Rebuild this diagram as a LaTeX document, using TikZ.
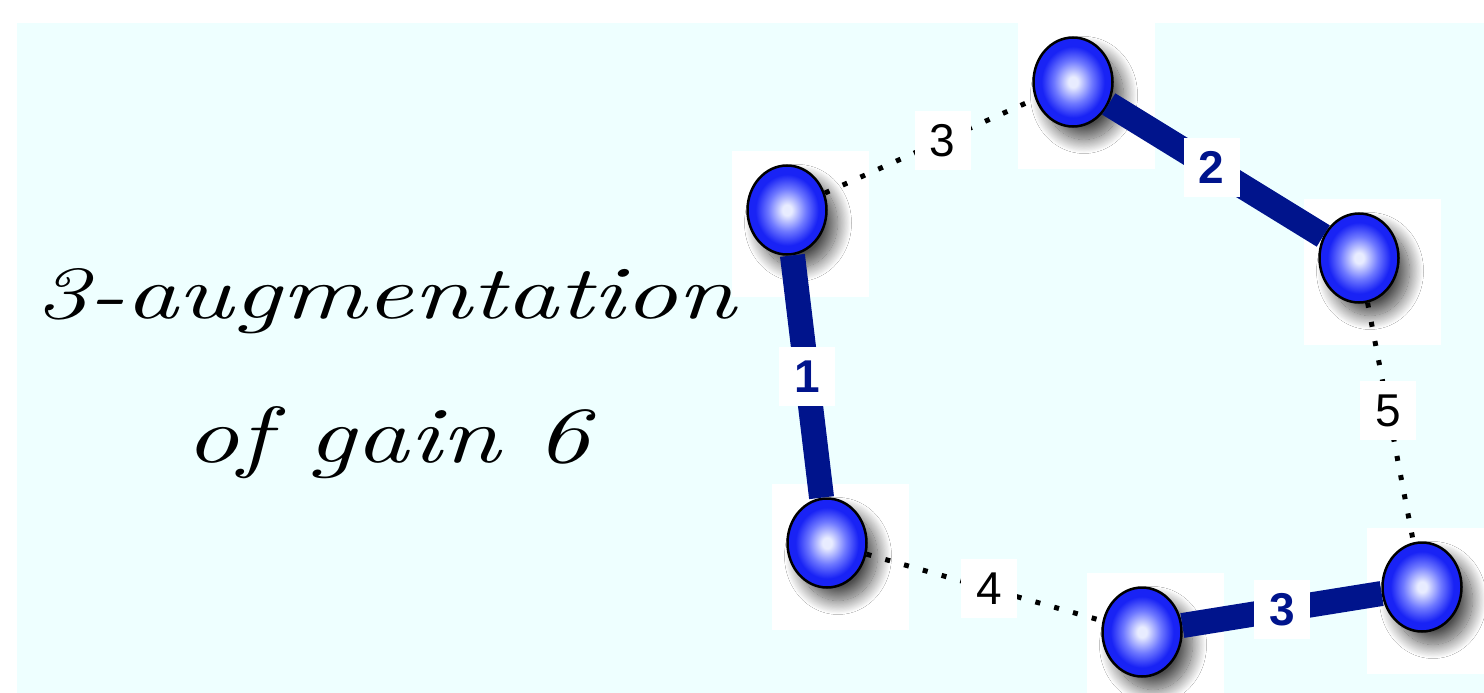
\documentclass[tikz,border=0pt]{standalone}
\usepackage{fontspec}
\usepackage{graphicx}
\newfontfamily\labelfont{Liberation Sans}
\usetikzlibrary{shapes.geometric,shadows.blur}
\definecolor{bgcyan}{RGB}{238,255,255}
\definecolor{navy}{RGB}{0,20,140}
\definecolor{ballhi}{RGB}{232,236,255}
\definecolor{ballmid}{RGB}{110,120,255}
\definecolor{ballblue}{RGB}{25,35,245}
\pgfdeclareradialshading{myball}{\pgfpoint{0bp}{0bp}}{color(0bp)=(ballhi); color(3bp)=(ballhi); color(12bp)=(ballmid); color(20bp)=(ballblue); color(25bp)=(ballblue); color(50bp)=(ballblue)}
\tikzset{
  ball/.style={ellipse, minimum width=79pt, minimum height=89pt, inner sep=0pt,
    draw=black, line width=2.5pt, shading=myball,
    blur shadow={shadow xshift=11pt, shadow yshift=-13pt, shadow blur radius=14pt,
      shadow blur steps=25, shadow opacity=70}},
  heavy/.style={draw=navy, line width=25pt},
  dots/.style={draw=black, line width=5pt, dash pattern=on 5pt off 14.5pt},
  wlabel/.style={fill=white, minimum width=56pt, minimum height=59pt, inner sep=0pt,
    font=\labelfont\fontsize{46}{50}\selectfont},
  hlabel/.style={wlabel, text=navy, font=\labelfont\bfseries\fontsize{46}{50}\selectfont},
}
\begin{document}
\begin{tikzpicture}[x=1pt,y=-1pt]
\useasboundingbox (0,0) rectangle (1484,693);
\fill[white] (0,0) rectangle (1484,693);
\fill[bgcyan] (17,23) rectangle (1484,693);
\coordinate (a) at (787,210);
\coordinate (b) at (1073,82);
\coordinate (c) at (1359,258);
\coordinate (d) at (827,543);
\coordinate (e) at (1142,632);
\coordinate (f) at (1422,587);
\foreach \p in {a,b,c,d,e,f}{
  \fill[white] ([shift={(-55,-59)}]\p) rectangle ([shift={(82,87)}]\p);
}
\node[ball] (A) at (a) {};
\node[ball] (B) at (b) {};
\node[ball] (C) at (c) {};
\node[ball] (D) at (d) {};
\node[ball] (E) at (e) {};
\node[ball] (F) at (f) {};
\draw[heavy] (A) -- node[hlabel] (l1) {1} (D);
\draw[heavy] (B) -- node[hlabel, pos=0.48] (l2) {2} (C);
\draw[heavy] (E) -- node[hlabel] (l3) {3} (F);
\draw[dots] (A) -- node[wlabel, pos=0.56] (m1) {3} (B);
\draw[dots] (D) -- node[wlabel, pos=0.52] (m2) {4} (E);
\draw[dots] (C) -- node[wlabel, pos=0.45] (m3) {5} (F);
\node[anchor=base west, inner sep=0pt] (t1) at (35,318) {\resizebox{700pt}{50pt}{\itshape 3-augmentation}};
\node[anchor=base west, inner sep=0pt] (t2) at (185,462) {\resizebox{405pt}{56pt}{\itshape of gain 6}};
\end{tikzpicture}
\end{document}
